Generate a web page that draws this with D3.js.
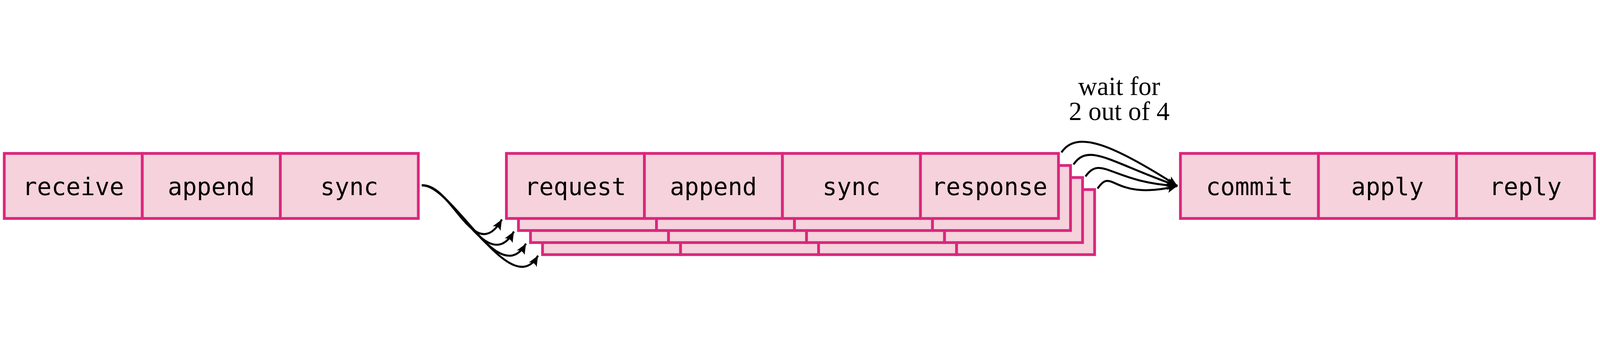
<!DOCTYPE html>
<html>
<head>
<meta charset="utf-8">
<script src="https://cdn.jsdelivr.net/npm/d3@7"></script>
<style>
  html, body { margin: 0; padding: 0; background: #fff; overflow: hidden; }
  svg { display: block; }
</style>
</head>
<body>
<svg id="chart"></svg>
<script>
const W = 6376, H = 890;
// stage names per block
const leaderStages = ["receive", "append", "sync"];
const followerStages = ["request", "append", "sync", "response"];
const commitStages = ["commit", "apply", "reply"];
const followerCopies = [3, 2, 1, 0]; // drawn back to front
const waitLabel = ["wait for", "2 out of 4"];

const cellW = 550, boxTop = 363, boxH = 259, offset = 48;
const stroke = "#d9277d", fill = "#f6d2dc";

const svg = d3.select("#chart")
  .attr("viewBox", `0 0 ${W} ${H}`)
  .attr("preserveAspectRatio", "xMidYMid meet")
  .style("width", "100vw").style("height", "100vh");

svg.append("defs").append("marker")
  .attr("id", "head")
  .attr("viewBox", "-44 -22 48 44")
  .attr("markerUnits", "userSpaceOnUse")
  .attr("markerWidth", 48).attr("markerHeight", 44)
  .attr("refX", 0).attr("refY", 0)
  .attr("orient", "auto")
  .append("path")
  .attr("d", "M0,0 L-42,-18 Q-28,0 -42,18 Z")
  .attr("fill", "#000");

// x scale per block
const leaderX = d3.scaleBand().domain(leaderStages.map((d, i) => i)).range([17, 17 + cellW * 3]);
const followerX = d3.scaleBand().domain(followerStages.map((d, i) => i)).range([2018, 2018 + cellW * 4]);
const commitX = d3.scaleBand().domain(commitStages.map((d, i) => i)).range([4704, 4704 + cellW * 3]);

function block(g, stages, x, dx, dy, labels) {
  const cells = g.append("g").attr("transform", `translate(${dx},${dy})`);
  cells.selectAll("rect").data(stages).join("rect")
    .attr("x", (d, i) => x(i)).attr("y", boxTop)
    .attr("width", x.bandwidth()).attr("height", boxH)
    .attr("fill", fill).attr("stroke", stroke).attr("stroke-width", 11);
  if (labels) {
    cells.selectAll("text").data(stages).join("text")
      .attr("x", (d, i) => x(i) + x.bandwidth() / 2)
      .attr("y", boxTop + boxH / 2 + 36)
      .attr("text-anchor", "middle")
      .attr("font-family", "DejaVu Sans Mono, monospace")
      .attr("font-size", 96)
      .attr("fill", "#000")
      .text(d => d);
  }
}

block(svg, leaderStages, leaderX, 0, 0, true);
followerCopies.forEach(k => block(svg, followerStages, followerX, k * offset, k * offset, k === 0));
block(svg, commitStages, commitX, 0, 0, true);

// fan-out arrows from leader sync to each follower copy
const fanStart = [leaderX.range()[1] + 14, boxTop + boxH / 2 - 2];
const fanEnds = [0, 1, 2, 3].map(k => [followerX.range()[0] - 18 + k * offset, boxTop + boxH + 4 + k * offset]);
svg.selectAll("path.fan").data(fanEnds).join("path")
  .attr("class", "fan")
  .attr("d", e => {
    const p = d3.path();
    p.moveTo(fanStart[0], fanStart[1]);
    p.bezierCurveTo(fanStart[0] + 120, fanStart[1] - 10, e[0] - 110, e[1] + 190, e[0], e[1]);
    return p.toString();
  })
  .attr("fill", "none").attr("stroke", "#000").attr("stroke-width", 8)
  .attr("marker-end", "url(#head)");

// fan-in arrows from each response to commit
const joinEnd = [commitX.range()[0] - 12, boxTop + boxH / 2];
const joinStarts = [0, 1, 2, 3].map(k => [followerX.range()[1] + 12 + k * offset, boxTop - 4 + k * offset]);
svg.selectAll("path.join").data(joinStarts).join("path")
  .attr("class", "join")
  .attr("d", s => {
    const p = d3.path();
    p.moveTo(s[0], s[1]);
    p.bezierCurveTo(s[0] + 60, s[1] - 90, joinEnd[0] - 260, joinEnd[1] - 160 + (s[1] - boxTop) * 1.6, joinEnd[0], joinEnd[1]);
    return p.toString();
  })
  .attr("fill", "none").attr("stroke", "#000").attr("stroke-width", 8)
  .attr("marker-end", "url(#head)");

svg.selectAll("text.wait").data(waitLabel).join("text")
  .attr("class", "wait")
  .attr("x", 4460).attr("y", (d, i) => 130 + i * 100)
  .attr("text-anchor", "middle")
  .attr("font-family", "Liberation Serif, serif")
  .attr("font-size", 104)
  .attr("fill", "#000")
  .text(d => d);
</script>
</body>
</html>
